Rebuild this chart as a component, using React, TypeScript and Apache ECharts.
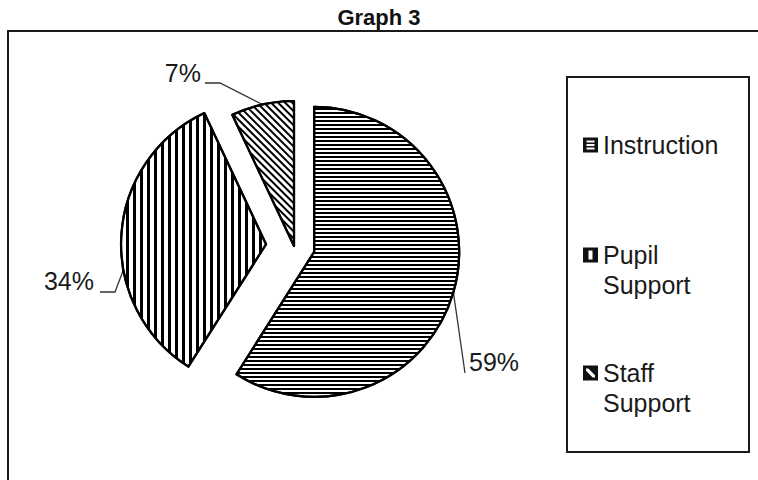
import React, { useEffect, useRef } from 'react';
import * as echarts from 'echarts';

// ---- data ----
const chartTitle = 'Graph 3';
const categories = ['Instruction', 'Pupil Support', 'Staff Support'];
const values = [59, 34, 7];
const legendLabels = ['Instruction', 'Pupil\nSupport', 'Staff\nSupport'];

// ---- layout / style ----
const FONT = '"Liberation Sans", Arial, Helvetica, sans-serif';
const CX = 294;
const CY = 246;
const R = 145;
const explode = [21, 28, 0];
const LABEL_SIZE = 25;
const LEGEND_LH = 30;
const ICON = 15;

// where each leader line leaves the slice (fraction of slice sweep), its elbow/end and the label anchor
const labelSpecs = [
  { t: 0.5, elbow: [465, 373], end: [465, 373], x: 469, y: 362, align: 'left' },
  { t: 0.387, elbow: [115, 292], end: [100, 292], x: 94, y: 281, align: 'right' },
  { t: 0.5, elbow: [220, 83], end: [205, 83], x: 201, y: 73, align: 'right' },
];

// legend glyphs (black square with a white pattern mark), drawn in a 15-unit box;
// two-line entries get an invisible bounding point so the square sits beside the first line
const glyphHoles = [
  'M3.5 3V5H11.5V3Z M3.5 6.5V8.5H11.5V6.5Z M3.5 10V12H11.5V10Z',
  'M5.5 3V12H9.5V3Z',
  'M3 3L3 5.3L9.7 12L12 12L12 9.7L5.3 3Z',
];
function shiftPath(d: string, dy: number) {
  return d.replace(/([MLV])([^MLHVZ]+)/g, (_m, cmd, args) => {
    const nums = args.trim().split(/[\s,]+/).map(Number);
    if (cmd === 'V') return 'V' + nums.map((n: number) => n + dy).join(' ');
    const out: number[] = [];
    for (let k = 0; k < nums.length; k += 2) out.push(nums[k], nums[k + 1] + dy);
    return cmd + out.join(' ');
  });
}
function legendIcon(i: number, lines: number) {
  if (lines === 1) return `path://M0 0H${ICON}V${ICON}H0Z ${glyphHoles[i]}`;
  const oy = (LEGEND_LH - ICON) / 2;
  const outer = `M0 ${oy}H${ICON}V${oy + ICON}H0Z`;
  return `path://M0 0M0 ${lines * LEGEND_LH} ${outer} ${shiftPath(glyphHoles[i], oy)}`;
}
const legendFirstLineCenters = [145, 255, 373];
const legendLeft = 583;

const decals: any[] = [
  { symbol: 'rect', symbolSize: 1, color: '#000', dashArrayX: [1, 0], dashArrayY: [2, 2], rotation: 0 },
  { symbol: 'rect', symbolSize: 1, color: '#000', dashArrayX: [3, 4], dashArrayY: [1, 0], rotation: 0 },
  { symbol: 'rect', symbolSize: 1, color: '#000', dashArrayX: [1, 0], dashArrayY: [2, 3], rotation: Math.PI / 4 },
];

function sliceAngles() {
  const total = values.reduce((a, b) => a + b, 0);
  let acc = 0;
  return values.map((v) => {
    const s = (acc / total) * 360;
    acc += v;
    const e = (acc / total) * 360;
    return [s, e];
  });
}

export default function App() {
  const ref = useRef<HTMLDivElement>(null);

  useEffect(() => {
    if (!ref.current) return;
    const chart = echarts.init(ref.current, undefined, { renderer: 'svg' });
    const angles = sliceAngles();
    const rad = (d: number) => (d * Math.PI) / 180;
    const centers = angles.map(([s, e], i) => {
      const m = rad((s + e) / 2);
      return [CX + explode[i] * Math.sin(m), CY - explode[i] * Math.cos(m)];
    });

    const series = categories.map((_, i) => ({
      type: 'pie',
      name: categories[i],
      center: centers[i],
      radius: R,
      startAngle: 90,
      clockwise: true,
      silent: true,
      avoidLabelOverlap: false,
      percentPrecision: 0,
      label: {
        position: 'outside',
        formatter: '{d}%',
        fontSize: LABEL_SIZE,
        fontFamily: FONT,
        color: '#1a1a1a',
      },
      labelLine: { lineStyle: { color: '#333', width: 1.3 }, length: 10, length2: 10, smooth: false },
      labelLayout: (p: any) => {
        if (p.dataIndex !== i) return {};
        const spec = labelSpecs[i];
        const [s, e] = angles[i];
        const a = rad(s + spec.t * (e - s));
        const ax = centers[i][0] + R * Math.sin(a);
        const ay = centers[i][1] - R * Math.cos(a);
        return {
          x: spec.x,
          y: spec.y,
          align: spec.align,
          verticalAlign: 'middle',
          labelLinePoints: [[ax, ay], spec.elbow, spec.end],
        };
      },
      data: categories.map((name, j) => ({
        name,
        value: values[j],
        itemStyle:
          j === i
            ? { color: '#ffffff', borderColor: '#000', borderWidth: 2.2, decal: decals[i] }
            : { color: 'rgba(0,0,0,0)', borderWidth: 0, borderColor: 'rgba(0,0,0,0)' },
        label: { show: j === i },
        labelLine: { show: j === i },
      })),
    }));

    const legends = categories.map((name, i) => {
      const lines = legendLabels[i].split('\n').length;
      const itemH = lines === 1 ? ICON : lines * LEGEND_LH;
      const blockH = Math.max(itemH, lines * LEGEND_LH);
      const top = legendFirstLineCenters[i] - LEGEND_LH / 2 - (lines === 1 ? (blockH - LEGEND_LH) / 2 : 0);
      return {
        show: true,
        orient: 'vertical',
        left: legendLeft,
        top,
        padding: 0,
        itemWidth: ICON,
        itemHeight: itemH,
        itemGap: 0,
        symbolKeepAspect: false,
        selectedMode: false,
        data: [{ name, icon: legendIcon(i, lines), itemStyle: { color: '#111', borderWidth: 0, decal: 'none' } }],
        formatter: (n: string) => legendLabels[categories.indexOf(n)],
        textStyle: {
          fontSize: LABEL_SIZE,
          fontFamily: FONT,
          color: '#1a1a1a',
          lineHeight: LEGEND_LH,
        },
      };
    });

    chart.setOption({
      animation: false,
      backgroundColor: '#ffffff',
      title: {
        text: chartTitle,
        left: 'center',
        top: 1,
        textStyle: { fontSize: 22, fontWeight: 'bold', color: '#111', fontFamily: FONT },
      },
      legend: legends,
      graphic: [
        {
          type: 'rect',
          z: -10,
          shape: { x: 8, y: 31, width: 800, height: 500 },
          style: { fill: 'none', stroke: '#1a1a1a', lineWidth: 2 },
        },
        {
          type: 'rect',
          z: -10,
          shape: { x: 567, y: 77, width: 182, height: 375 },
          style: { fill: 'none', stroke: '#1a1a1a', lineWidth: 2 },
        },
      ],
      series,
    } as any);

    return () => chart.dispose();
  }, []);

  return (
    <div
      ref={ref}
      style={{ position: 'fixed', left: 0, top: 0, width: 758, height: 480, background: '#fff' }}
    />
  );
}
